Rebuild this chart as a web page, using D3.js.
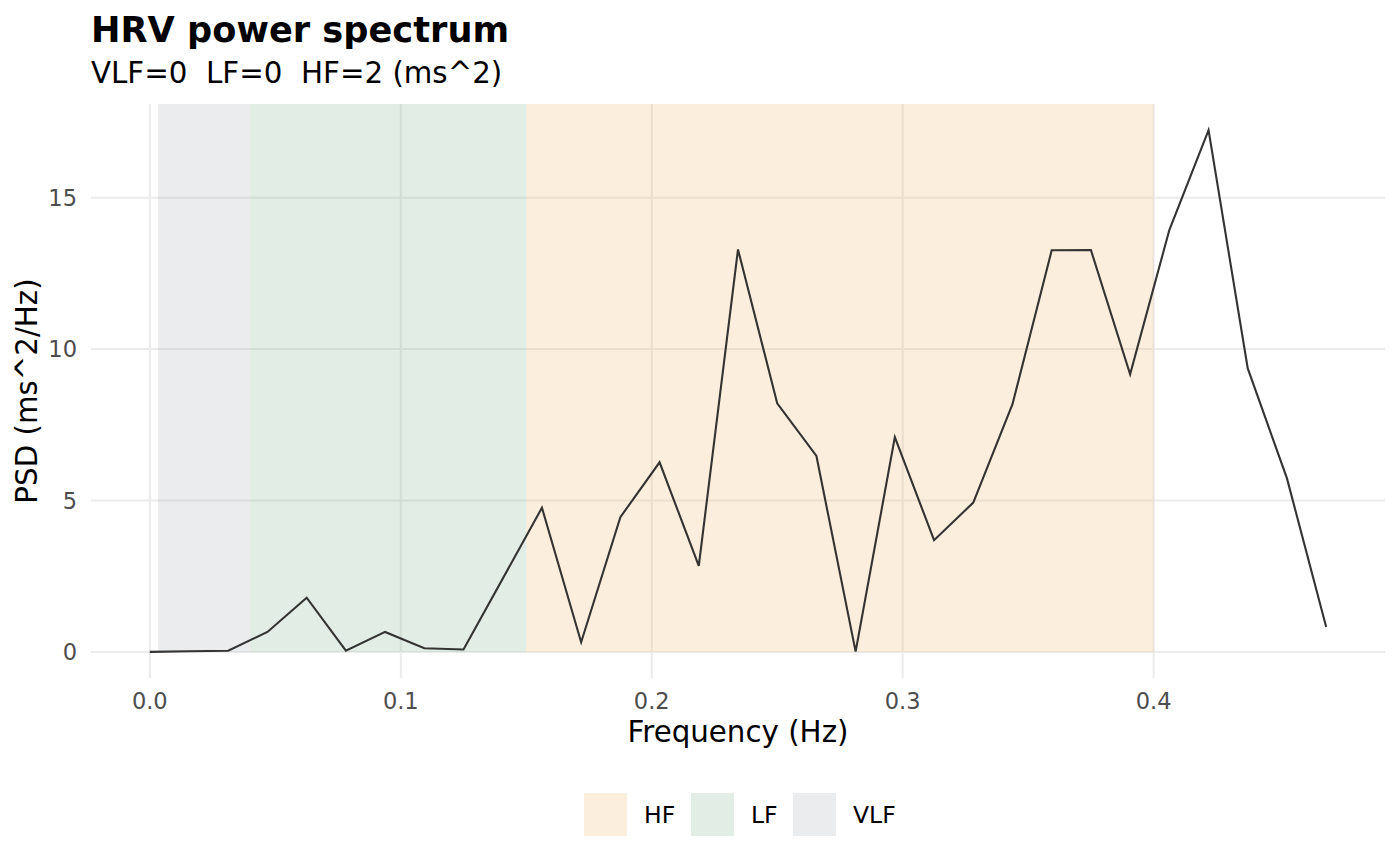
<!DOCTYPE html>
<html>
<head>
<meta charset="utf-8">
<script src="https://cdn.jsdelivr.net/npm/d3@7"></script>
<style>
  body { margin: 0; background: #fff; }
  text { font-family: "DejaVu Sans", sans-serif; }
</style>
</head>
<body>
<div id="chart"></div>
<script>
// spectrum values
var freq = [0, 0.015625, 0.03125, 0.046875, 0.0625, 0.078125, 0.09375, 0.109375, 0.125,
  0.15625, 0.171875, 0.1875, 0.203125, 0.21875, 0.234375, 0.25, 0.265625, 0.28125,
  0.296875, 0.3125, 0.328125, 0.34375, 0.359375, 0.375, 0.390625, 0.40625, 0.421875,
  0.4375, 0.453125, 0.46875];
var psd = [0.0, 0.02, 0.04, 0.66, 1.79, 0.04, 0.66, 0.12, 0.08,
  4.76, 0.32, 4.45, 6.26, 2.84, 13.29, 8.21, 6.47, 0.01,
  7.09, 3.69, 4.93, 8.18, 13.26, 13.27, 9.17, 13.93, 17.23,
  9.36, 5.73, 0.82];

// frequency bands
var bandNames = ["VLF", "LF", "HF"];
var bandFrom = [0.0033, 0.04, 0.15];
var bandTo = [0.04, 0.15, 0.4];
var legendOrder = ["HF", "LF", "VLF"];

var xTicks = [0, 0.1, 0.2, 0.3, 0.4];
var yTicks = [0, 5, 10, 15];

function init() {
  var W = 1400, H = 866;
  var left = 91, right = 1385, top = 104, bottom = 678;

  var svg = d3.select("#chart").append("svg")
    .attr("width", W)
    .attr("height", H);

  // ggplot style 5% expansion
  var xMax = d3.max(freq), yMax = d3.max(psd);
  var x = d3.scaleLinear()
    .domain([-0.05 * xMax, xMax * 1.05])
    .range([left, right]);
  var y = d3.scaleLinear()
    .domain([-0.05 * yMax, yMax * 1.05])
    .range([bottom, top]);

  var color = d3.scaleOrdinal()
    .domain(["VLF", "LF", "HF"])
    .range(["rgb(155,160,170)", "rgb(110,165,130)", "rgb(238,172,80)"]);

  // grid
  svg.selectAll(".gy").data(yTicks).enter().append("line")
    .attr("x1", left).attr("x2", right)
    .attr("y1", function(d) { return y(d); })
    .attr("y2", function(d) { return y(d); })
    .attr("stroke", "#ebebeb").attr("stroke-width", 2);
  svg.selectAll(".gx").data(xTicks).enter().append("line")
    .attr("y1", top).attr("y2", bottom)
    .attr("x1", function(d) { return x(d); })
    .attr("x2", function(d) { return x(d); })
    .attr("stroke", "#ebebeb").attr("stroke-width", 2);

  // bands
  svg.selectAll(".band").data(bandNames).enter().append("rect")
    .attr("x", function(d, i) { return x(bandFrom[i]); })
    .attr("width", function(d, i) { return x(bandTo[i]) - x(bandFrom[i]); })
    .attr("y", top)
    .attr("height", y(0) - top)
    .attr("fill", function(d) { return color(d); })
    .attr("fill-opacity", 0.2);

  // spectrum line
  var line = d3.line()
    .x(function(d, i) { return x(freq[i]); })
    .y(function(d) { return y(d); });
  svg.append("path")
    .datum(psd)
    .attr("d", line)
    .attr("fill", "none")
    .attr("stroke", "#333333")
    .attr("stroke-width", 2.1)
    .attr("stroke-linejoin", "miter");

  // tick labels
  svg.selectAll(".xl").data(xTicks).enter().append("text")
    .attr("x", function(d) { return x(d); })
    .attr("y", 709)
    .attr("text-anchor", "middle")
    .attr("font-size", 22.5)
    .attr("fill", "#4d4d4d")
    .text(function(d) { return d3.format(".1f")(d); });
  svg.selectAll(".yl").data(yTicks).enter().append("text")
    .attr("x", 77)
    .attr("y", function(d) { return y(d); })
    .attr("dy", "0.36em")
    .attr("text-anchor", "end")
    .attr("font-size", 22.5)
    .attr("fill", "#4d4d4d")
    .text(function(d) { return d; });

  // axis titles
  svg.append("text")
    .attr("x", (left + right) / 2)
    .attr("y", 742)
    .attr("text-anchor", "middle")
    .attr("font-size", 29.3)
    .text("Frequency (Hz)");
  svg.append("text")
    .attr("transform", "translate(37," + (top + bottom) / 2 + ") rotate(-90)")
    .attr("text-anchor", "middle")
    .attr("font-size", 29.3)
    .text("PSD (ms^2/Hz)");

  // title and subtitle
  svg.append("text")
    .attr("x", left).attr("y", 42)
    .attr("font-size", 35.2)
    .attr("font-weight", "bold")
    .text("HRV power spectrum");
  svg.append("text")
    .attr("x", left).attr("y", 83)
    .attr("font-size", 29.3)
    .attr("xml:space", "preserve")
    .style("white-space", "pre")
    .text("VLF=0  LF=0  HF=2 (ms^2)");

  // legend
  var keyX = [584, 691, 793];
  var lg = svg.selectAll(".lg").data(legendOrder).enter().append("g")
    .attr("transform", function(d, i) { return "translate(" + keyX[i] + ",793)"; });
  lg.append("rect")
    .attr("width", 43).attr("height", 43)
    .attr("fill", function(d) { return color(d); })
    .attr("fill-opacity", 0.2);
  lg.append("text")
    .attr("x", 60)
    .attr("y", 21.5)
    .attr("dy", "0.36em")
    .attr("font-size", 23.5)
    .text(function(d) { return d; });
}
window.onload = init;
</script>
</body>
</html>
